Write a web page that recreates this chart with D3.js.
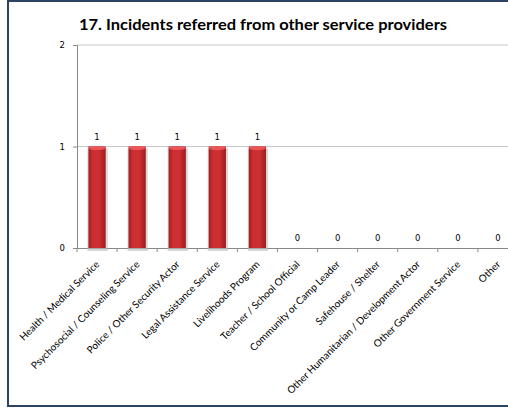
<!DOCTYPE html>
<html>
<head>
<meta charset="utf-8">
<script src="https://cdn.jsdelivr.net/npm/d3@7"></script>
<style>
  body { margin: 0; background: #fff; }
  svg { display: block; }
</style>
</head>
<body>
<script>
// Chart data
const categories = [
  "Health / Medical Service",
  "Psychosocial / Counseling Service",
  "Police / Other Security Actor",
  "Legal Assistance Service",
  "Livelihoods Program",
  "Teacher / School Official",
  "Community or Camp Leader",
  "Safehouse / Shelter",
  "Other Humanitarian / Development Actor",
  "Other Government Service",
  "Other"
];
const values = [1, 1, 1, 1, 1, 0, 0, 0, 0, 0, 0];
const yTicks = [0, 1, 2];

const width = 508;
const height = 408;
const margin = { top: 45, left: 77, bottom: 160 };
const plotRight = 518;

const svg = d3.select("body").append("svg")
  .attr("width", width)
  .attr("height", height);

// gradients for the cylinder-style bars
const defs = svg.append("defs");
const grad = defs.append("linearGradient")
  .attr("id", "barGrad")
  .attr("x1", "0").attr("x2", "1").attr("y1", "0").attr("y2", "0");
grad.append("stop").attr("offset", "0%").attr("stop-color", "#a41e21");
grad.append("stop").attr("offset", "25%").attr("stop-color", "#cc2e30");
grad.append("stop").attr("offset", "60%").attr("stop-color", "#cf3033");
grad.append("stop").attr("offset", "100%").attr("stop-color", "#9c1c1f");

// frame
svg.append("rect")
  .attr("x", 8).attr("y", 1)
  .attr("width", 530).attr("height", 405)
  .attr("fill", "#fff")
  .attr("stroke", "#2b4466")
  .attr("stroke-width", 2);

const x = d3.scaleBand()
  .domain(categories)
  .range([margin.left, plotRight])
  .paddingInner(0)
  .paddingOuter(0);

const y = d3.scaleLinear()
  .domain([0, 2])
  .range([height - margin.bottom, margin.top]);

// gridlines
svg.append("g")
  .selectAll("line")
  .data(yTicks.filter(d => d > 0))
  .join("line")
  .attr("x1", margin.left).attr("x2", plotRight)
  .attr("y1", d => y(d)).attr("y2", d => y(d))
  .attr("stroke", "#c8c8c8")
  .attr("stroke-width", 1.2);

// y axis
const yAxis = svg.append("g")
  .attr("transform", `translate(${margin.left},0)`)
  .call(d3.axisLeft(y).tickValues(yTicks).tickFormat(d3.format("d")).tickSize(4).tickPadding(8));
yAxis.select(".domain").attr("stroke", "#888");
yAxis.selectAll(".tick line").attr("stroke", "#888");
yAxis.selectAll("text")
  .attr("fill", "#000")
  .style("font-family", "Verdana, 'DejaVu Sans', sans-serif")
  .style("font-size", "8.5px");

// x axis
const xAxis = svg.append("g")
  .attr("transform", `translate(0,${y(0)})`)
  .call(d3.axisBottom(x).tickSize(0).tickFormat(""));
xAxis.select(".domain").attr("stroke", "#888");
xAxis.selectAll(".tick").remove();

// tick marks at band boundaries
svg.append("g")
  .selectAll("line")
  .data(categories)
  .join("line")
  .attr("x1", d => x(d)).attr("x2", d => x(d))
  .attr("y1", y(0)).attr("y2", y(0) + 4)
  .attr("stroke", "#888");

// category labels
svg.append("g")
  .selectAll("text")
  .data(categories)
  .join("text")
  .attr("transform", d => `translate(${x(d) + x.bandwidth() / 2 + 3},${y(0) + 17}) rotate(-45)`)
  .attr("text-anchor", "end")
  .style("font-family", "Lato, 'Open Sans', sans-serif")
  .style("font-size", "10px")
  .text(d => d);

const barW = x.bandwidth() * 0.43;
const bars = svg.append("g");
const data = categories.map((c, i) => ({ c, v: values[i] }));

// shadow
bars.selectAll("rect.shadow")
  .data(data.filter(d => d.v > 0))
  .join("rect")
  .attr("class", "shadow")
  .attr("x", d => x(d.c) + (x.bandwidth() - barW) / 2 - 1)
  .attr("y", d => y(d.v) + 2)
  .attr("width", barW + 3)
  .attr("height", d => y(0) - y(d.v) + 1)
  .attr("fill", "#bbb")
  .attr("opacity", 0.6);

bars.selectAll("rect.bar")
  .data(data.filter(d => d.v > 0))
  .join("rect")
  .attr("class", "bar")
  .attr("x", d => x(d.c) + (x.bandwidth() - barW) / 2)
  .attr("y", d => y(d.v))
  .attr("width", barW)
  .attr("height", d => y(0) - y(d.v))
  .attr("fill", "url(#barGrad)");

// top cap
bars.selectAll("ellipse")
  .data(data.filter(d => d.v > 0))
  .join("ellipse")
  .attr("cx", d => x(d.c) + x.bandwidth() / 2)
  .attr("cy", d => y(d.v) + 1.5)
  .attr("rx", barW / 2)
  .attr("ry", 2)
  .attr("fill", "#ec5558");

// value labels
svg.append("g")
  .selectAll("text")
  .data(data)
  .join("text")
  .attr("x", d => x(d.c) + x.bandwidth() / 2)
  .attr("y", d => y(d.v) - 7)
  .attr("text-anchor", "middle")
  .style("font-family", "Verdana, 'DejaVu Sans', sans-serif")
  .style("font-size", "8.5px")
  .text(d => d.v);

// title
svg.append("text")
  .attr("x", 263)
  .attr("y", 30)
  .attr("text-anchor", "middle")
  .style("font-family", "Lato, 'Liberation Sans', sans-serif")
  .style("font-size", "15px")
  .style("font-weight", "bold")
  .attr("textLength", 368)
  .attr("lengthAdjust", "spacingAndGlyphs")
  .text("17.  Incidents referred from other service providers");
</script>
</body>
</html>
